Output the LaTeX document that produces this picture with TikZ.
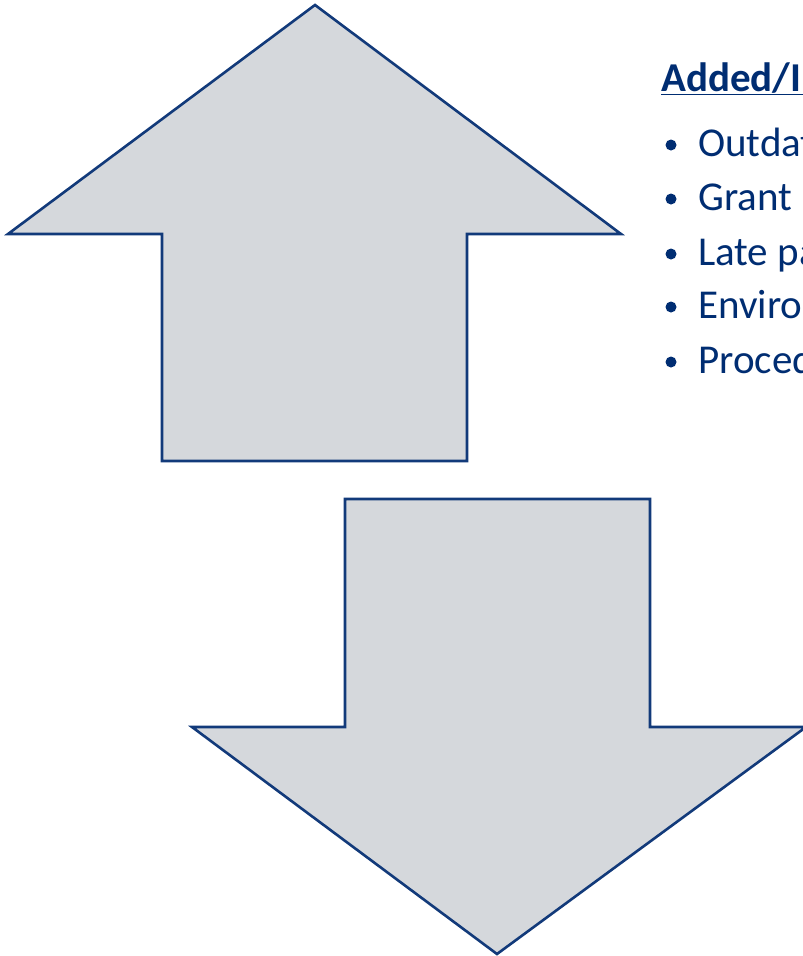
\documentclass[tikz,border=0pt]{standalone}
\usepackage{fontspec}
\setmainfont{Carlito}
\definecolor{arrowfill}{HTML}{D5D8DC}
\definecolor{arrowline}{HTML}{123A7A}
\definecolor{textnavy}{HTML}{002D72}
\begin{document}
\begin{tikzpicture}[x=1pt,y=-1pt,
  bigarrow/.style={fill=arrowfill,draw=arrowline,line width=2.6pt,line join=miter},
  itemtext/.style={anchor=base west,inner sep=0pt,text=textnavy,font=\fontsize{41}{46}\selectfont},
  bulletmark/.style={circle,fill=textnavy,inner sep=0pt,minimum size=11pt}]
\useasboundingbox (0,0) rectangle (803,956);
\clip (0,0) rectangle (803,956);
\fill[white] (0,0) rectangle (803,956);
% up arrow
\draw[bigarrow] (315,5) -- (621,234) -- (467,234) -- (467,461) -- (162,461) -- (162,234) -- (8,234) -- cycle;
% down arrow
\draw[bigarrow] (345,499) -- (650,499) -- (650,727) -- (806,727) -- (497,954) -- (192,727) -- (345,727) -- cycle;
% text
\node[itemtext,font=\fontsize{41}{46}\selectfont\bfseries] (title) at (661,91) {\underline{Added/Increased}};
\node[bulletmark] (b1) at (671,145) {};
\node[itemtext] (t1) at (698,156) {Outdated};
\node[bulletmark] (b2) at (671,199) {};
\node[itemtext] (t2) at (698,210) {Grant};
\node[bulletmark] (b3) at (671,254) {};
\node[itemtext] (t3) at (698,265) {Late payments};
\node[bulletmark] (b4) at (671,307) {};
\node[itemtext] (t4) at (698,318) {Environmental};
\node[bulletmark] (b5) at (671,362) {};
\node[itemtext] (t5) at (698,373) {Procedures};
\end{tikzpicture}
\end{document}
